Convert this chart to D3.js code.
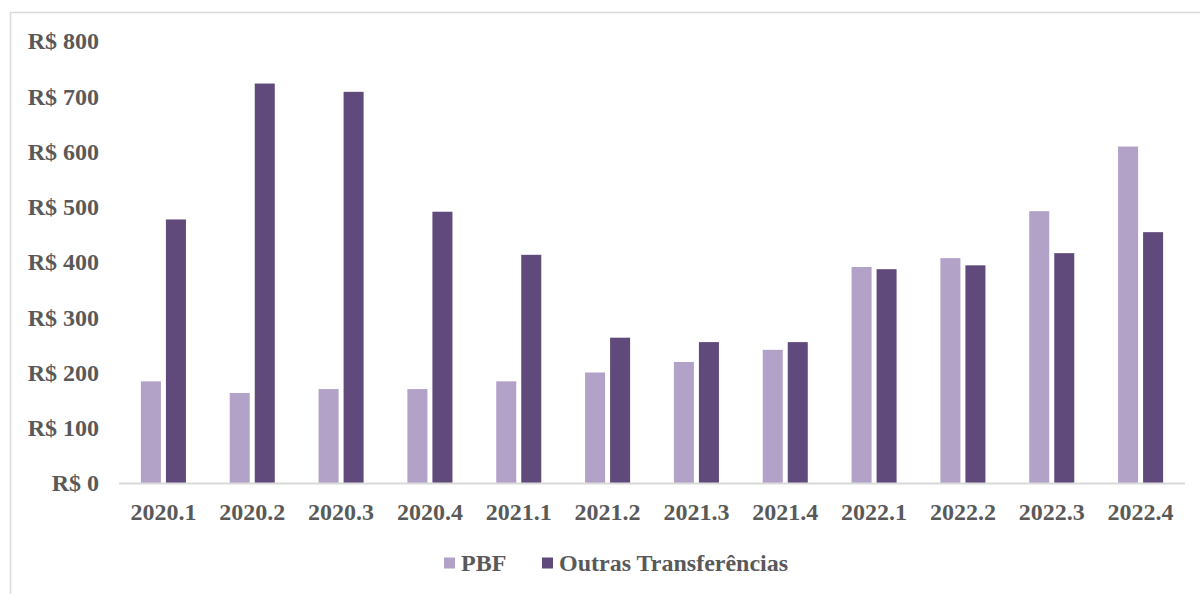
<!DOCTYPE html>
<html>
<head>
<meta charset="utf-8">
<script src="https://cdn.jsdelivr.net/npm/d3@7"></script>
<style>
html,body{margin:0;padding:0;background:#fff;}
svg{display:block;}
text{font-family:"Liberation Serif","Times New Roman",serif;font-weight:bold;fill:#595959;}
</style>
</head>
<body>
<svg id="chart" width="1200" height="594"></svg>
<script>
const categories = ["2020.1","2020.2","2020.3","2020.4","2021.1","2021.2","2021.3","2021.4","2022.1","2022.2","2022.3","2022.4"];
const seriesNames = ["PBF","Outras Transferências"];
const pbf    = [184,163,170,170,184,200,219,241,391,407,492,609];
const outras = [477,723,708,491,413,263,255,255,387,394,416,454];
const yTicks = [0,100,200,300,400,500,600,700,800];
const colors = ["#b3a2c7","#604a7b"];

const svg = d3.select("#chart");
const fontSize = 24;

// outer border (chart area frame)
svg.append("rect").attr("x",10.5).attr("y",12.5).attr("width",1200).attr("height",600)
  .attr("fill","none").attr("stroke","#d9d9d9").attr("stroke-width",1.5);

const x0 = d3.scaleBand().domain(categories).range([119,1185]).paddingInner(0.493).paddingOuter(0.2465);
const x1 = d3.scaleBand().domain(seriesNames).range([0,x0.bandwidth()]).paddingInner(0.2);
const y = d3.scaleLinear().domain([0,800]).range([483,41]);

const data = categories.map((c,i)=>({cat:c, vals:[{s:seriesNames[0],v:pbf[i],c:colors[0]},{s:seriesNames[1],v:outras[i],c:colors[1]}]}));

const g = svg.append("g");
g.selectAll("g.cat").data(data).enter().append("g").attr("class","cat")
  .attr("transform",d=>`translate(${x0(d.cat)},0)`)
  .selectAll("rect").data(d=>d.vals).enter().append("rect")
  .attr("x",d=>x1(d.s)).attr("width",x1.bandwidth())
  .attr("y",d=>y(d.v)).attr("height",d=>y(0)-y(d.v))
  .attr("fill",d=>d.c);

// baseline
svg.append("line").attr("x1",119).attr("x2",1185).attr("y1",y(0)+0.5).attr("y2",y(0)+0.5)
  .attr("stroke","#d9d9d9").attr("stroke-width",2);

// y axis
const yAxis = d3.axisLeft(y).tickValues(yTicks).tickFormat(d=>"R$ "+d).tickSize(0).tickPadding(0);
const ya = svg.append("g").attr("transform","translate(99,0)").call(yAxis);
ya.select(".domain").remove();
ya.selectAll("text").style("font-size",fontSize+"px").style("font-family",null).attr("fill","#595959").attr("dy","0.33em");

// x axis
const xAxis = d3.axisBottom(x0).tickSize(0).tickPadding(0);
const xa = svg.append("g").attr("transform",`translate(0,${y(0)})`).call(xAxis);
xa.select(".domain").remove();
xa.selectAll("text").style("font-size",fontSize+"px").style("font-family",null).attr("fill","#595959").attr("dy",null).attr("y",37);

// legend
const legendItems = [{name:seriesNames[0],c:colors[0],sx:444,tx:461},{name:seriesNames[1],c:colors[1],sx:542,tx:559}];
const lg = svg.append("g");
legendItems.forEach(it=>{
  lg.append("rect").attr("x",it.sx).attr("y",557.5).attr("width",11).attr("height",11).attr("fill",it.c);
  lg.append("text").attr("x",it.tx).attr("y",571).style("font-size",fontSize+"px").text(it.name);
});
</script>
</body>
</html>
